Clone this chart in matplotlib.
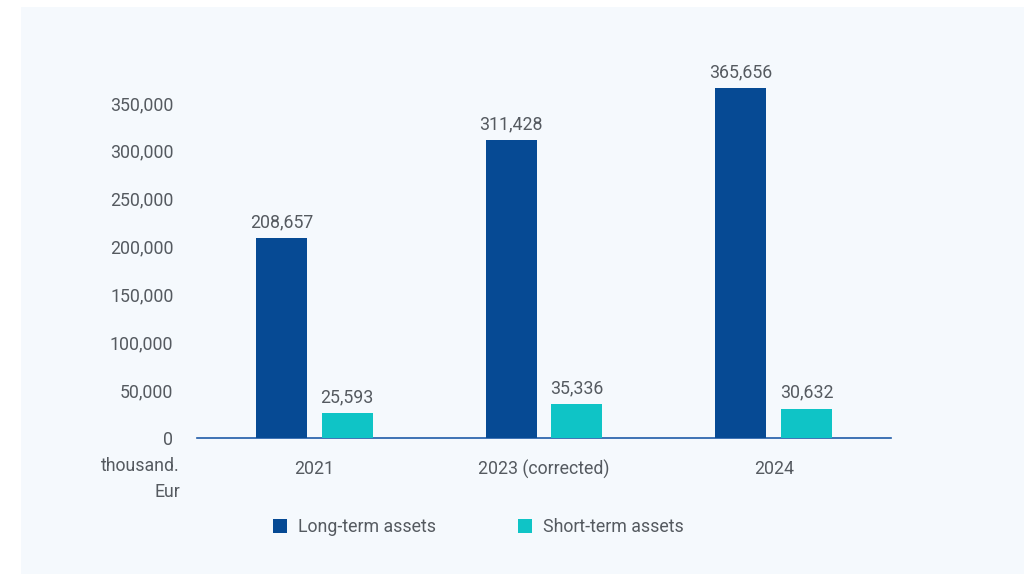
import matplotlib
matplotlib.use("Agg")
import matplotlib.pyplot as plt
from matplotlib.patches import Rectangle
import numpy as np

categories = ["2021", "2023 (corrected)", "2024"]
long_term = [208657, 311428, 365656]
short_term = [25593, 35336, 30632]
series_names = ["Long-term assets", "Short-term assets"]
y_ticks = [0, 50000, 100000, 150000, 200000, 250000, 300000, 350000]

DARK = "#064a94"
TEAL = "#0fc4c6"
TEXT = "#555a60"
PANEL = "#f5f9fd"
AXIS_LINE = "#1f5ba8"

plt.rcParams["font.family"] = ["Roboto", "DejaVu Sans"]

W, H = 1024, 574
fig = plt.figure(figsize=(W / 100, H / 100), dpi=100, facecolor="white")
fig.patches.append(Rectangle((21 / W, 0), 1 - 21 / W, (H - 7) / H,
                             transform=fig.transFigure, facecolor=PANEL,
                             edgecolor="none", zorder=-10))

ax = fig.add_axes([197 / W, 136 / H, (891 - 197) / W, 383 / H])
ax.set_facecolor("none")
ax.set_zorder(5)

x = np.arange(len(categories))
width = 0.222
off = 0.143
b1 = ax.bar(x - off, long_term, width, color=DARK, label=series_names[0], zorder=3)
b2 = ax.bar(x + off, short_term, width, color=TEAL, label=series_names[1], zorder=3)

for bars, vals in ((b1, long_term), (b2, short_term)):
    for rect, v in zip(bars, vals):
        ax.annotate(f"{v:,}", (rect.get_x() + rect.get_width() / 2, v),
                    xytext=(0, 5), textcoords="offset points",
                    ha="center", va="bottom", fontsize=12.8, color=TEXT)

ax.set_xlim(-0.51, 2.51)
ax.set_ylim(0, 400000)
ax.set_yticks(y_ticks)
ax.set_yticklabels([f"{t:,}" for t in y_ticks])
ax.set_xticks(x)
ax.set_xticklabels(categories)
ax.tick_params(axis="y", length=0, pad=17, labelsize=12.8, labelcolor=TEXT)
ax.tick_params(axis="x", length=0, pad=16, labelsize=12.8, labelcolor=TEXT)

for s in ("top", "right", "left"):
    ax.spines[s].set_visible(False)
ax.spines["bottom"].set_color(AXIS_LINE)
ax.spines["bottom"].set_linewidth(1.2)

# unit caption under the value axis
fig.text(180 / W, 1 - 466 / H, "thousand.", ha="right", va="center",
         fontsize=12.8, color=TEXT)
fig.text(180 / W, 1 - 492 / H, "Eur", ha="right", va="center",
         fontsize=12.8, color=TEXT)

fig.legend(handles=[b1, b2], labels=series_names,
           loc="center left", bbox_to_anchor=(257 / W, 1 - 527 / H),
           ncol=2, frameon=False, fontsize=12.8, labelcolor=TEXT,
           handlelength=0.8, handleheight=0.8, handletextpad=0.6,
           columnspacing=4.6)

fig.savefig("out.png", dpi=100, facecolor="white")
